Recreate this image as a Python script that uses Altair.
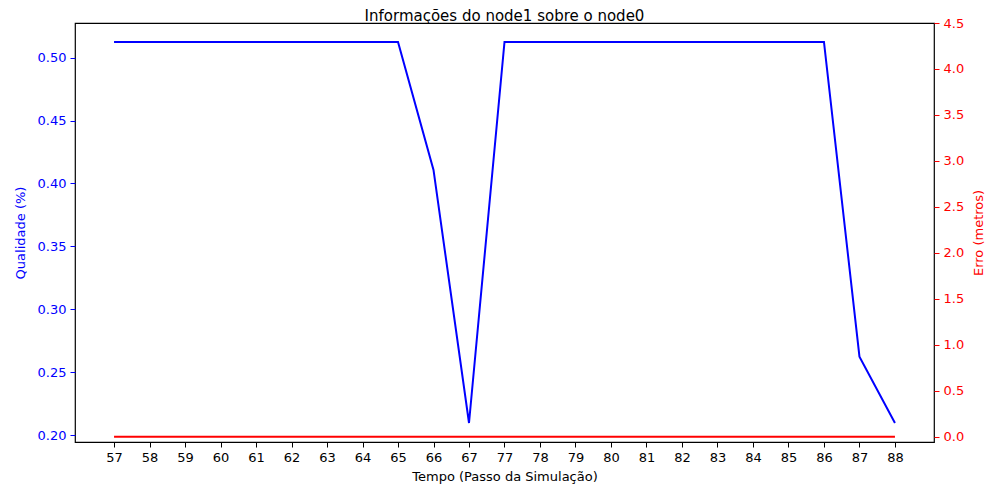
import altair as alt
import pandas as pd

steps = ["57", "58", "59", "60", "61", "62", "63", "64", "65", "66", "67",
         "77", "78", "79", "80", "81", "82", "83", "84", "85", "86", "87", "88"]
qualidade = [0.5124, 0.5124, 0.5124, 0.5124, 0.5124, 0.5124, 0.5124, 0.5124, 0.5124,
             0.4108, 0.2097,
             0.5124, 0.5124, 0.5124, 0.5124, 0.5124, 0.5124, 0.5124, 0.5124, 0.5124, 0.5124,
             0.2624, 0.2097]
erro = [0.0] * 23

df = pd.DataFrame({"idx": list(range(len(steps))), "step": steps,
                   "qualidade": qualidade, "erro": erro})

label_arr = "[" + ",".join("'%s'" % s for s in steps) + "]"
FONT = "DejaVu Sans"

x_enc = alt.X("idx:Q",
              scale=alt.Scale(domain=[-1.1, len(steps) - 1 + 1.1], nice=False, zero=False),
              axis=alt.Axis(values=list(range(len(steps))), labelExpr=label_arr + "[datum.value]",
                            title="Tempo (Passo da Simulação)", grid=False, domain=False,
                            tickColor="black", tickSize=5, labelColor="black",
                            labelFontSize=13, titleFontSize=13, titleFontWeight="normal",
                            labelFont=FONT, titleFont=FONT, labelPadding=4, titlePadding=6,
                            titleColor="black"))

blue = alt.Chart(df).mark_line(color="#0000ff", strokeWidth=2).encode(
    x=x_enc,
    y=alt.Y("qualidade:Q",
            scale=alt.Scale(domain=[0.1946, 0.5275], nice=False, zero=False),
            axis=alt.Axis(values=[0.20, 0.25, 0.30, 0.35, 0.40, 0.45, 0.50], format=".2f",
                          title="Qualidade (%)", grid=False, domain=False,
                          tickColor="#0000ff", labelColor="#0000ff", titleColor="#0000ff",
                          tickSize=5, labelFontSize=13, titleFontSize=13,
                          titleFontWeight="normal", labelFont=FONT, titleFont=FONT,
                          labelPadding=4, titlePadding=10))
)

red = alt.Chart(df).mark_line(color="#ff0000", strokeWidth=2).encode(
    x=x_enc,
    y=alt.Y("erro:Q",
            scale=alt.Scale(domain=[-0.057, 4.5], nice=False, zero=False),
            axis=alt.Axis(orient="right", values=[0, 0.5, 1, 1.5, 2, 2.5, 3, 3.5, 4, 4.5],
                          format=".1f", title="Erro (metros)", grid=False, domain=False,
                          tickColor="#ff0000", labelColor="#ff0000", titleColor="#ff0000",
                          tickSize=5, labelFontSize=13, titleFontSize=13,
                          titleFontWeight="normal", labelFont=FONT, titleFont=FONT,
                          titleAngle=270, titleBaseline="bottom",
                          labelPadding=4, titlePadding=22))
)

chart = alt.layer(blue, red).resolve_scale(y="independent").properties(
    width=859, height=419,
    autosize=alt.AutoSizeParams(type="none"),
    padding={"left": 67, "top": 15, "right": 58, "bottom": 50},
    title=alt.TitleParams("Informações do node1 sobre o node0", fontSize=15,
                          font=FONT, fontWeight="normal", color="black",
                          frame="group", offset=0, dy=7),
).configure(background="white").configure_view(stroke="black", strokeWidth=1.2)

chart.save("out.html", embed_options={"renderer": "svg", "actions": False})
